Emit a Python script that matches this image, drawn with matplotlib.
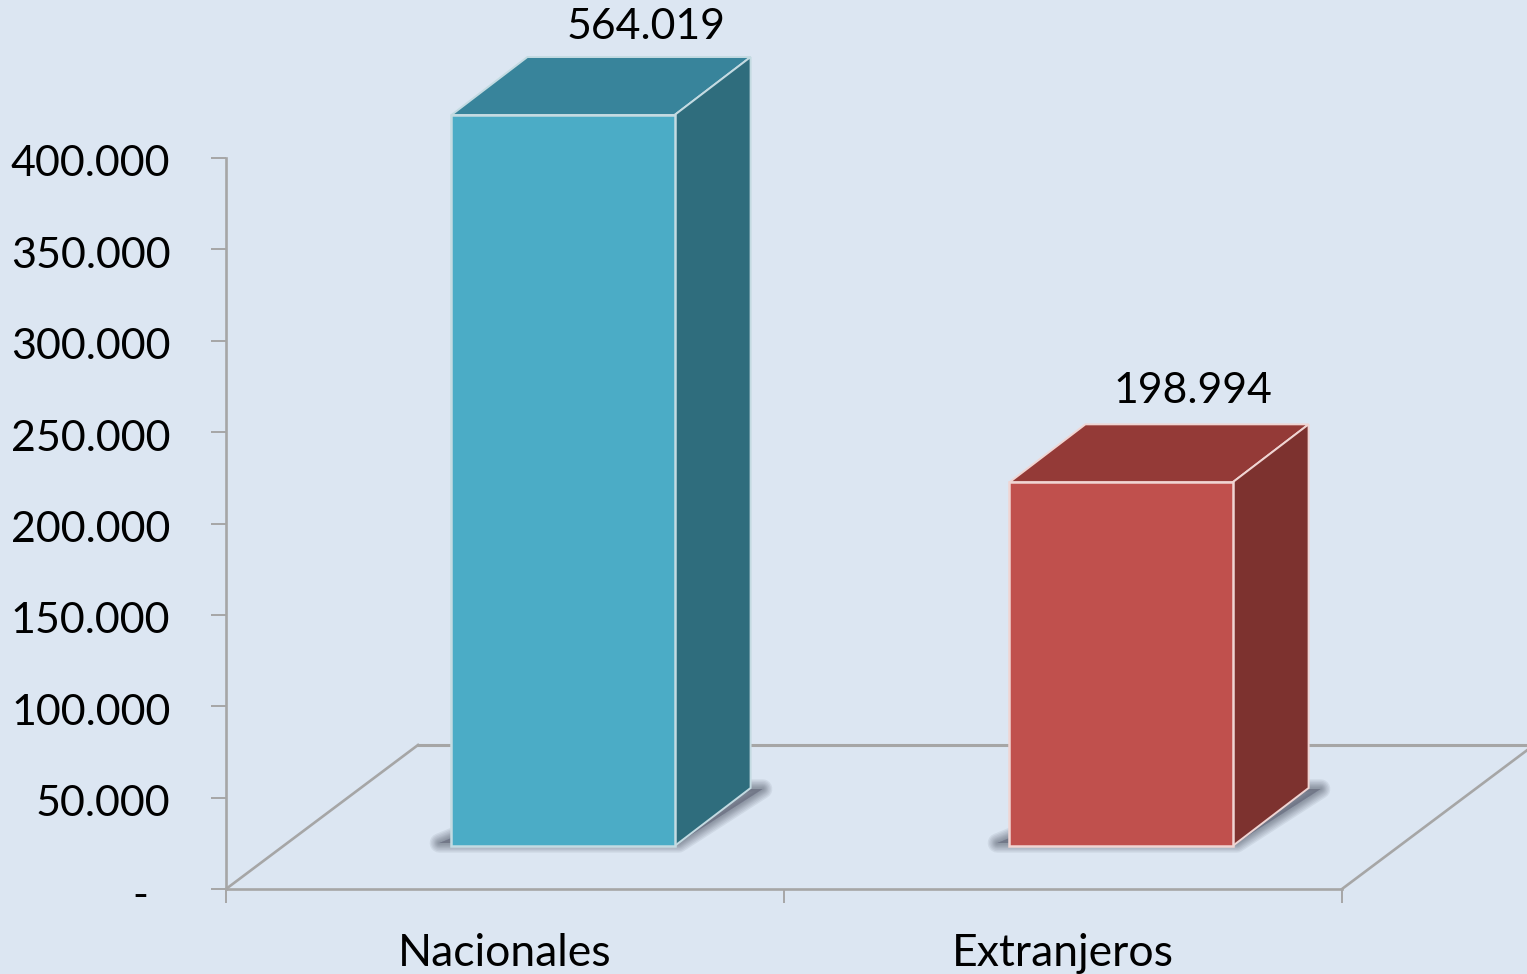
import matplotlib
matplotlib.use("Agg")
import matplotlib.pyplot as plt
from matplotlib.patches import Polygon
from matplotlib.transforms import Affine2D

categorias = ["Nacionales", "Extranjeros"]
valores = [564019, 198994]
y_ticks = [0, 50000, 100000, 150000, 200000, 250000, 300000, 350000, 400000]
y_max = 400000

frente = ["#4bacc6", "#c0504d"]
tapa = ["#38849b", "#943a37"]
lado = ["#2f6d7d", "#7d322f"]
borde = ["#c4dbe2", "#f0d5d3"]
fondo = "#dce6f2"
gris = "#a6a6a6"

plt.rcParams["font.family"] = ["Lato", "DejaVu Sans"]

W, H = 1527, 974
fig = plt.figure(figsize=(W / 100, H / 100), dpi=100, facecolor=fondo)
ax = fig.add_axes([226 / W, 85 / H, (1342 - 226) / W, 731 / H], facecolor="none")
ax.set_xlim(-0.5, 1.5)
ax.set_ylim(0, y_max)

# shift in pixels, the fake 3d goes through the data transform
def shift(dx, dy):
    return ax.transData + Affine2D().translate(dx, dy)

# floor
piso = shift(192, 144)
ax.plot([-0.5, 1.5], [0, 0], color=gris, lw=2.2, clip_on=False, zorder=1, transform=piso)
for xf in [-0.5, 1.5]:
    x0, y0 = ax.transData.transform((xf, 0))
    ax.plot([x0, x0 + 192], [y0, y0 + 144], color=gris, lw=1.9, clip_on=False, zorder=1,
            transform=None)

ancho = 0.4
dx_bar, dy_bar = 58, 43
dx_p, dy_p = 76, 58
base = shift(dx_bar, dy_bar)

for i, v in enumerate(valores):
    h = min(v, y_max)
    l = i - ancho / 2
    r = i + ancho / 2

    # shadow on the floor, stacked strokes to look blurred
    x0, y0 = base.transform((l, 0))
    x1, _ = base.transform((r, 0))
    sombra = [(x0 - 12, y0 + 3), (x1 + 4, y0 + 3), (x1 + dx_p + 12, y0 + dy_p - 1),
              (x1 + dx_p - 10, y0 + dy_p - 1), (x0 + 5, y0 + 10)]
    for lw in [14, 12, 10, 8, 6.5, 5, 3.5, 2]:
        ax.add_patch(Polygon(sombra, closed=True, transform=None, facecolor="#62687a",
                             edgecolor="#62687a", lw=lw, alpha=0.11, joinstyle="round",
                             clip_on=False, zorder=2))

    # top and side faces
    xt, yt = base.transform((l, h))
    xr, _ = base.transform((r, h))
    xb, yb = base.transform((r, 0))
    ax.add_patch(Polygon([(xt, yt), (xr, yt), (xr + dx_p, yt + dy_p), (xt + dx_p, yt + dy_p)],
                         closed=True, transform=None, facecolor=tapa[i], edgecolor=borde[i],
                         lw=1.4, clip_on=False, zorder=3))
    ax.add_patch(Polygon([(xr, yt), (xr + dx_p, yt + dy_p), (xb + dx_p, yb + dy_p), (xb, yb)],
                         closed=True, transform=None, facecolor=lado[i], edgecolor=borde[i],
                         lw=1.4, clip_on=False, zorder=3))

ax.bar(range(len(valores)), [min(v, y_max) for v in valores], width=ancho, color=frente,
       edgecolor=borde, lw=1.8, transform=base, clip_on=False, zorder=4)

# data labels
offs = [(83, 88), (72, 91)]
for i, v in enumerate(valores):
    ax.annotate(f"{v:,}".replace(",", "."), xy=(i, min(v, y_max)), xycoords=base,
                xytext=offs[i], textcoords="offset pixels", ha="center", va="center",
                fontsize=30.8, color="black", annotation_clip=False, zorder=5)

for s in ["top", "right"]:
    ax.spines[s].set_visible(False)
ax.spines["left"].set_color(gris)
ax.spines["left"].set_linewidth(1.9)
ax.spines["bottom"].set_color(gris)
ax.spines["bottom"].set_linewidth(1.9)

ax.set_yticks(y_ticks)
ax.set_yticklabels(["-  " if t == 0 else f"{t:,}".replace(",", ".") for t in y_ticks])
ax.tick_params(axis="y", length=11, width=1.4, color=gris, pad=29, labelsize=31)
for lab in ax.get_yticklabels():
    lab.set_transform(lab.get_transform() + Affine2D().translate(0, -3))
ax.set_xticks([-0.5, 0.5, 1.5])
ax.set_xticklabels([])
ax.set_xticks([0, 1], minor=True)
ax.set_xticklabels(categorias, minor=True)
ax.tick_params(axis="x", which="major", length=10, width=1.4, color=gris)
ax.tick_params(axis="x", which="minor", length=0, pad=32, labelsize=32)

fig.savefig("out.png", dpi=100, facecolor=fondo)
